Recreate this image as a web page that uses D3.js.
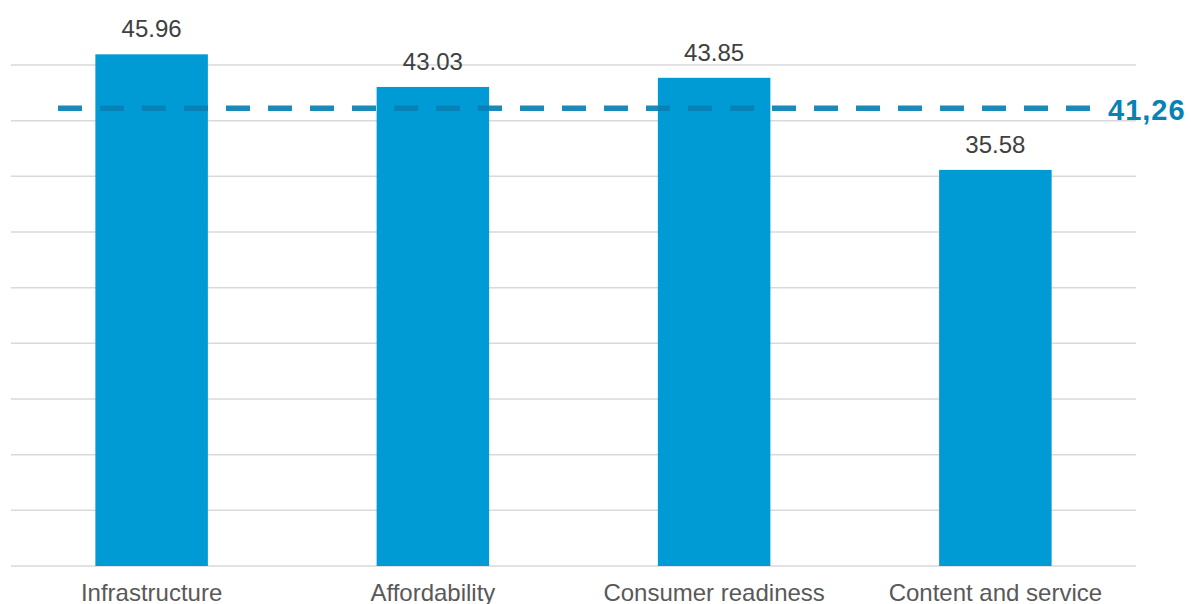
<!DOCTYPE html>
<html>
<head>
<meta charset="utf-8">
<script src="https://cdn.jsdelivr.net/npm/d3@7"></script>
<style>
  html, body { margin: 0; padding: 0; background: #fff; }
  svg { display: block; font-family: "Liberation Sans", Arial, sans-serif; }
</style>
</head>
<body>
<svg id="chart" width="1191" height="604"></svg>
<script>
const categories = ["Infrastructure", "Affordability", "Consumer readiness", "Content and service"];
const values = [45.96, 43.03, 43.85, 35.58];
const averageValue = 41.26;
const averageLabel = "41,26";
const gridTicks = [0, 5, 10, 15, 20, 25, 30, 35, 40, 45];

const svg = d3.select("#chart");
const left = 11, right = 1136, bottom = 566;

const x = d3.scaleBand().domain(categories).range([left, right]).paddingInner(0.6).paddingOuter(0.3);
const y = d3.scaleLinear().domain([0, 50]).range([bottom, bottom - 50 * 11.133]);

// gridlines
svg.append("g").selectAll("line").data(gridTicks).join("line")
  .attr("x1", left).attr("x2", right)
  .attr("y1", d => y(d)).attr("y2", d => y(d))
  .attr("stroke", "#d9d9d9").attr("stroke-width", 1.5);

// bars
svg.append("g").selectAll("rect").data(values).join("rect")
  .attr("x", (d, i) => x(categories[i]))
  .attr("width", x.bandwidth())
  .attr("y", d => y(d))
  .attr("height", d => y(0) - y(d))
  .attr("fill", "#009bd5");

// value labels
svg.append("g").selectAll("text").data(values).join("text")
  .attr("x", (d, i) => x(categories[i]) + x.bandwidth() / 2)
  .attr("y", d => y(d) - 17)
  .attr("text-anchor", "middle")
  .attr("font-size", 24)
  .attr("fill", "#404040")
  .text(d => d.toFixed(2));

// category labels
svg.append("g").selectAll("text").data(categories).join("text")
  .attr("x", d => x(d) + x.bandwidth() / 2)
  .attr("y", 601)
  .attr("text-anchor", "middle")
  .attr("font-size", 24)
  .attr("fill", "#595959")
  .text(d => d);

// average dashed line
svg.append("line")
  .attr("x1", 58).attr("x2", 1090)
  .attr("y1", y(averageValue) + 1.5).attr("y2", y(averageValue) + 1.5)
  .attr("stroke", "#0680b3").attr("stroke-opacity", 0.92)
  .attr("stroke-width", 5.5)
  .attr("stroke-dasharray", "24,18");

svg.append("text")
  .attr("x", 1108)
  .attr("y", y(averageValue) + 13)
  .attr("font-size", 29)
  .attr("font-weight", "bold")
  .attr("letter-spacing", 1)
  .attr("fill", "#0782b5")
  .text(averageLabel);
</script>
</body>
</html>
